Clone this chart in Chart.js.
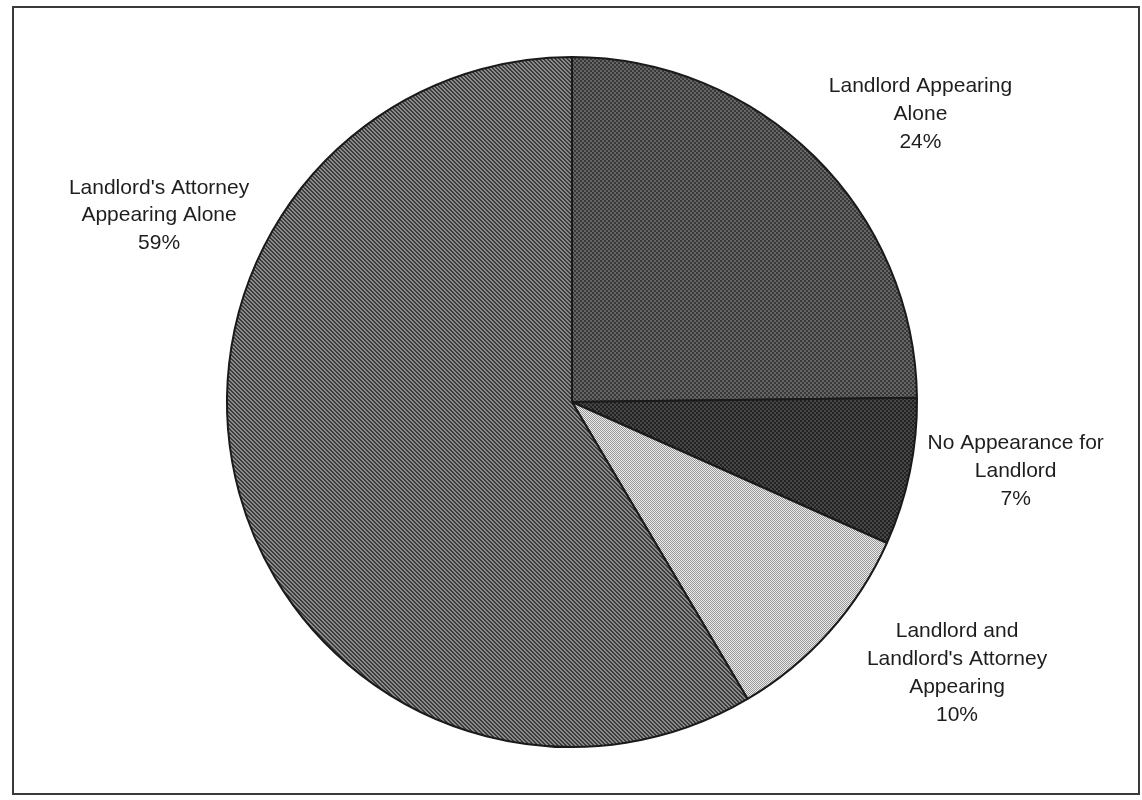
<!DOCTYPE html>
<html>
<head>
<meta charset="utf-8">
<script src="https://cdn.jsdelivr.net/npm/chart.js@4"></script>
<style>
html,body{margin:0;padding:0;background:#fff;}
#wrap{position:relative;width:1142px;height:800px;}
#frame{position:absolute;left:12px;top:6px;width:1124px;height:785px;border:2px solid #3a3a3a;box-sizing:content-box;pointer-events:none;}
canvas{position:absolute;left:0;top:0;}
</style>
</head>
<body>
<div id="wrap">
<canvas id="c" width="1142" height="800"></canvas>
<div id="frame"></div>
</div>
<script>
const categories = [
  ["Landlord Appearing", "Alone"],
  ["No Appearance for", "Landlord"],
  ["Landlord and", "Landlord's Attorney", "Appearing"],
  ["Landlord's Attorney", "Appearing Alone"]
];
// slice sizes as drawn in the picture (percent)
const sliceValues = [24.8, 6.9, 9.8, 58.5];
// percentages printed on the labels
const percentLabels = ["24%", "7%", "10%", "59%"];

// label anchor offsets relative to pie centre, in units of the radius (layout only)
const labelOffsets = [[1.01, -0.835], [1.286, 0.20], [1.116, 0.786], [-1.197, -0.54]];

function dotPattern(bg, fg, size) {
  const c = document.createElement('canvas');
  c.width = size; c.height = size;
  const g = c.getContext('2d');
  g.fillStyle = bg; g.fillRect(0, 0, size, size);
  g.fillStyle = fg;
  g.fillRect(0, 0, 1, 1);
  g.fillRect(size/2, size/2, 1, 1);
  return g.createPattern(c, 'repeat');
}
function dotPatternDark(bg, fg) {
  const c = document.createElement('canvas');
  c.width = 4; c.height = 4;
  const g = c.getContext('2d');
  g.fillStyle = bg; g.fillRect(0, 0, 4, 4);
  g.fillStyle = fg;
  g.fillRect(0, 0, 2, 2);
  g.fillRect(2, 2, 2, 2);
  return g.createPattern(c, 'repeat');
}
function stripePattern(bg, fg) {
  const s = 4;
  const c = document.createElement('canvas');
  c.width = s; c.height = s;
  const g = c.getContext('2d');
  g.fillStyle = bg; g.fillRect(0, 0, s, s);
  g.fillStyle = fg;
  for (let i = 0; i < s; i++) {
    g.fillRect(i, i, 1, 1);
    g.fillRect((i + 1) % s, i, 1, 1);
  }
  return g.createPattern(c, 'repeat');
}

const fills = [
  dotPatternDark('#666666', '#383838'),
  dotPatternDark('#474747', '#222222'),
  dotPattern('#ebebeb', '#999999', 2),
  stripePattern('#8a8a8a', '#3c3c3c')
];

const labelPlugin = {
  id: 'outerLabels',
  afterDraw(chart) {
    const ctx = chart.ctx;
    const meta = chart.getDatasetMeta(0);
    ctx.save();
    ctx.font = '21px "Liberation Sans", Arial, sans-serif';
    ctx.fillStyle = '#1e1e1e';
    ctx.textAlign = 'center';
    ctx.textBaseline = 'middle';
    meta.data.forEach((arc, i) => {
      const r = arc.outerRadius;
      const cx = arc.x + labelOffsets[i][0] * r;
      const cy = arc.y + labelOffsets[i][1] * r;
      const lines = categories[i].concat([percentLabels[i]]);
      const lh = 27.8;
      const start = cy - (lines.length - 1) * lh / 2;
      lines.forEach((t, k) => ctx.fillText(t, cx, start + k * lh));
    });
    ctx.restore();
  }
};

new Chart(document.getElementById('c'), {
  type: 'pie',
  data: {
    labels: categories.map(l => l.join(' ')),
    datasets: [{
      data: sliceValues,
      backgroundColor: fills,
      borderColor: '#1a1a1a',
      borderWidth: 2
    }]
  },
  options: {
    responsive: false,
    animation: false,
    layout: { padding: { top: 56, bottom: 52, left: 226, right: 224 } },
    plugins: {
      legend: { display: false },
      tooltip: { enabled: false },
      title: { display: false }
    }
  },
  plugins: [labelPlugin]
});
</script>
</body>
</html>
